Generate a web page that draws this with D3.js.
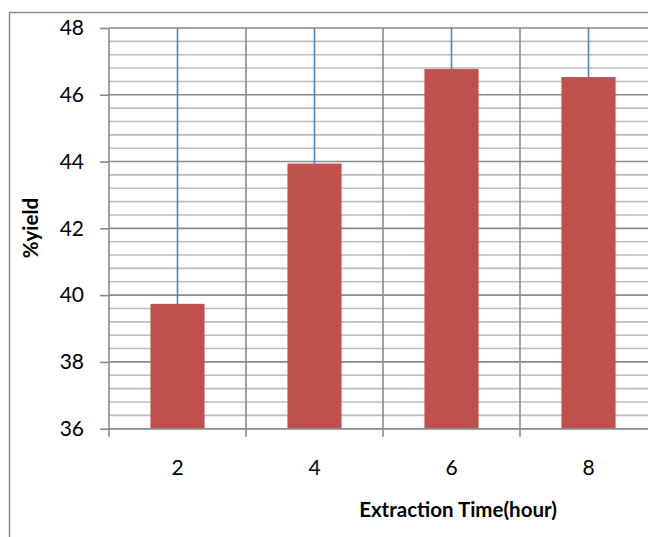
<!DOCTYPE html>
<html>
<head>
<meta charset="utf-8">
<script src="https://cdn.jsdelivr.net/npm/d3@7"></script>
<style>
  body { margin: 0; background: #fff; }
  svg { display: block; font-family: Lato, "Open Sans", sans-serif; }
</style>
</head>
<body>
<div id="chart"></div>
<script>
// values
var hours = ['2', '4', '6', '8'];
var yieldPct = [39.74, 43.94, 46.77, 46.53];
var yTicks = [36, 38, 40, 42, 44, 46, 48];

var width = 648, height = 537;
var plotLeft = 109, plotRight = 657, plotTop = 28, plotBottom = 428.7;

var svg = d3.select('#chart').append('svg')
    .attr('width', width)
    .attr('height', height);

// outer chart frame (runs off the right and bottom edges)
svg.append('rect')
    .attr('x', 9.5)
    .attr('y', 12.5)
    .attr('width', 700)
    .attr('height', 600)
    .attr('fill', 'none')
    .attr('stroke', '#8c8c8c')
    .attr('stroke-width', 1.5);

var x = d3.scaleBand().domain(hours).range([plotLeft, plotRight]).padding(0);
var y = d3.scaleLinear().domain([36, 48]).range([plotBottom, plotTop]);

// minor gridlines every 0.4
var minor = d3.range(0, 31).map(function (i) { return +(36 + i * 0.4).toFixed(1); })
    .filter(function (v) { return yTicks.indexOf(v) < 0; });

svg.append('g')
    .selectAll('line')
    .data(minor)
    .enter()
    .append('line')
    .attr('x1', plotLeft)
    .attr('x2', plotRight)
    .attr('y1', function (d) { return y(d); })
    .attr('y2', function (d) { return y(d); })
    .attr('stroke', '#bdbdbd')
    .attr('stroke-width', 1.6);

// major gridlines
svg.append('g')
    .selectAll('line')
    .data(yTicks)
    .enter()
    .append('line')
    .attr('x1', plotLeft)
    .attr('x2', plotRight)
    .attr('y1', function (d) { return y(d); })
    .attr('y2', function (d) { return y(d); })
    .attr('stroke', '#8a8a8a')
    .attr('stroke-width', 1.6);

// vertical gridlines at category boundaries
svg.append('g')
    .selectAll('line')
    .data(hours.slice(1))
    .enter()
    .append('line')
    .attr('x1', function (d) { return x(d); })
    .attr('x2', function (d) { return x(d); })
    .attr('y1', plotTop)
    .attr('y2', plotBottom + 8)
    .attr('stroke', '#8a8a8a')
    .attr('stroke-width', 1.6);

// blue drop lines at category centres
svg.append('g')
    .selectAll('line')
    .data(hours)
    .enter()
    .append('line')
    .attr('x1', function (d) { return x(d) + x.bandwidth() / 2; })
    .attr('x2', function (d) { return x(d) + x.bandwidth() / 2; })
    .attr('y1', plotTop)
    .attr('y2', plotBottom)
    .attr('stroke', '#4f81bd')
    .attr('stroke-width', 1.6);

// bars
var barW = x.bandwidth() * 0.395;
svg.append('g')
    .selectAll('rect')
    .data(hours)
    .enter()
    .append('rect')
    .attr('x', function (d) { return x(d) + x.bandwidth() / 2 - barW / 2; })
    .attr('y', function (d, i) { return y(yieldPct[i]); })
    .attr('width', barW)
    .attr('height', function (d, i) { return y(36) - y(yieldPct[i]); })
    .attr('fill', '#c0504d');

// y axis
var yAxis = svg.append('g')
    .attr('transform', 'translate(' + plotLeft + ',0)')
    .call(d3.axisLeft(y).tickValues(yTicks).tickSize(9).tickPadding(16).tickFormat(d3.format('d')));
yAxis.select('.domain').attr('stroke', '#8a8a8a').attr('stroke-width', 1.6).attr('d', 'M0,' + plotTop + 'V' + (plotBottom + 8));
yAxis.selectAll('.tick line').attr('stroke', '#8a8a8a').attr('stroke-width', 1.6);
yAxis.selectAll('.tick text').attr('font-size', 21).attr('fill', '#000').attr('font-family', 'Lato, sans-serif');

// x axis
var xAxis = svg.append('g')
    .attr('transform', 'translate(0,' + plotBottom + ')')
    .call(d3.axisBottom(x).tickSize(0).tickPadding(31));
xAxis.select('.domain').attr('stroke', '#8a8a8a').attr('stroke-width', 1.6).attr('d', 'M' + plotLeft + ',0H' + plotRight);
xAxis.selectAll('.tick text').attr('font-size', 21).attr('fill', '#000').attr('font-family', 'Lato, sans-serif');

// axis titles
svg.append('text')
    .attr('x', 458)
    .attr('y', 517)
    .attr('text-anchor', 'middle')
    .attr('font-size', 20.5)
    .attr('font-weight', 'bold')
    .text('Extraction Time(hour)');

svg.append('text')
    .attr('transform', 'translate(38,228) rotate(-90)')
    .attr('text-anchor', 'middle')
    .attr('font-size', 20.5)
    .attr('font-weight', 'bold')
    .text('%yield');
</script>
</body>
</html>
